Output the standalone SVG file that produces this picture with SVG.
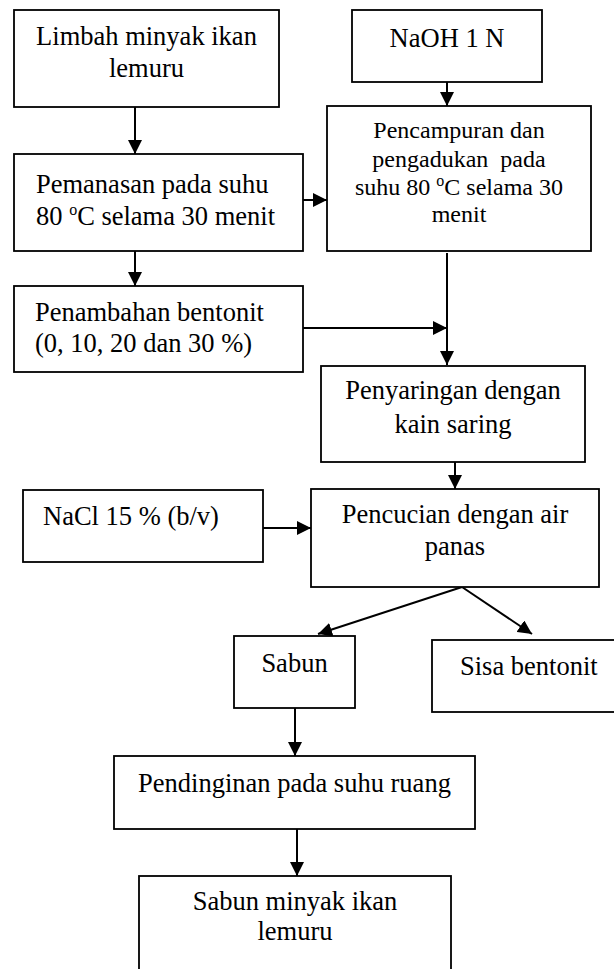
<svg xmlns="http://www.w3.org/2000/svg" width="614" height="969" viewBox="0 0 614 969">
<style>
  .box { fill: #ffffff; stroke: #000000; stroke-width: 1.8; }
  .t { font-family: "Liberation Serif", "Times New Roman", serif; font-size: 26.5px; fill: #000000; }
  .s { font-size: 24px; }
  .c { text-anchor: middle; }
  .sup { font-size: 16px; }
  .edge { fill: none; stroke: #000000; stroke-width: 2; marker-end: url(#arr); }
  .plain { fill: none; stroke: #000000; stroke-width: 2; }
</style>
<defs>
  <marker id="arr" markerUnits="userSpaceOnUse" markerWidth="15" markerHeight="14" refX="14" refY="7" orient="auto">
    <path d="M0,0 L14,7 L0,14 z" fill="#000000"/>
  </marker>
</defs>
<rect x="0" y="0" width="614" height="969" fill="#ffffff"/>

<g id="connectors">
  <line class="edge" x1="135" y1="107" x2="135" y2="154"/>
  <line class="edge" x1="303" y1="200" x2="327" y2="200"/>
  <line class="edge" x1="447" y1="82" x2="447" y2="106"/>
  <line class="edge" x1="135" y1="251" x2="135" y2="286"/>
  <line class="edge" x1="447" y1="253" x2="447" y2="365"/>
  <line class="edge" x1="303" y1="328" x2="447" y2="328"/>
  <line class="edge" x1="455" y1="462" x2="455" y2="489"/>
  <line class="edge" x1="263" y1="528" x2="311" y2="528"/>
  <line class="edge" x1="462" y1="587" x2="318" y2="634"/>
  <line class="edge" x1="462" y1="587" x2="532" y2="634"/>
  <line class="edge" x1="295" y1="708" x2="295" y2="756"/>
  <line class="edge" x1="297" y1="829" x2="297" y2="876"/>
</g>

<g id="limbah">
  <rect class="box" x="14" y="10" width="265" height="97"/>
  <text class="t c" x="146.5" y="45">Limbah minyak ikan</text>
  <text class="t c" x="146.5" y="77">lemuru</text>
</g>

<g id="naoh">
  <rect class="box" x="352" y="10" width="190" height="72"/>
  <text class="t c" x="447" y="47">NaOH 1 N</text>
</g>

<g id="pemanasan">
  <rect class="box" x="14" y="154" width="289" height="97"/>
  <text class="t" x="36" y="193">Pemanasan pada suhu</text>
  <text class="t" x="36" y="225">80 <tspan class="sup" dy="-10">o</tspan><tspan dy="10">C selama 30 menit</tspan></text>
</g>

<g id="pencampuran">
  <rect class="box" x="327" y="106" width="264" height="145"/>
  <text class="t s c" x="459" y="138">Pencampuran dan</text>
  <text class="t s c" x="459" y="167" xml:space="preserve">pengadukan  pada</text>
  <text class="t s c" x="459" y="195">suhu 80 <tspan class="sup" font-size="15" dy="-9">o</tspan><tspan dy="9">C selama 30</tspan></text>
  <text class="t s c" x="459" y="222">menit</text>
</g>

<g id="penambahan">
  <rect class="box" x="14" y="286" width="289" height="86"/>
  <text class="t" x="35" y="321">Penambahan bentonit</text>
  <text class="t" x="35" y="352">(0, 10, 20 dan 30 %)</text>
</g>

<g id="penyaringan">
  <rect class="box" x="321" y="366" width="264" height="96"/>
  <text class="t c" x="453" y="399">Penyaringan dengan</text>
  <text class="t c" x="453" y="433">kain saring</text>
</g>

<g id="nacl">
  <rect class="box" x="23" y="490" width="240" height="72"/>
  <text class="t" x="43" y="525">NaCl 15 % (b/v)</text>
</g>

<g id="pencucian">
  <rect class="box" x="311" y="489" width="288" height="98"/>
  <text class="t c" x="455" y="523">Pencucian dengan air</text>
  <text class="t c" x="455" y="555">panas</text>
</g>

<g id="sabun">
  <rect class="box" x="234" y="636" width="121" height="72"/>
  <text class="t c" x="294.5" y="672">Sabun</text>
</g>

<g id="sisa">
  <rect class="box" x="432" y="640" width="200" height="72"/>
  <text class="t" x="460" y="675">Sisa bentonit</text>
</g>

<g id="pendinginan">
  <rect class="box" x="114" y="756" width="361" height="73"/>
  <text class="t c" x="294.5" y="792">Pendinginan pada suhu ruang</text>
</g>

<g id="sabun-minyak">
  <rect class="box" x="139" y="876" width="312" height="120"/>
  <text class="t c" x="295" y="910">Sabun minyak ikan</text>
  <text class="t c" x="295" y="940">lemuru</text>
</g>
</svg>
